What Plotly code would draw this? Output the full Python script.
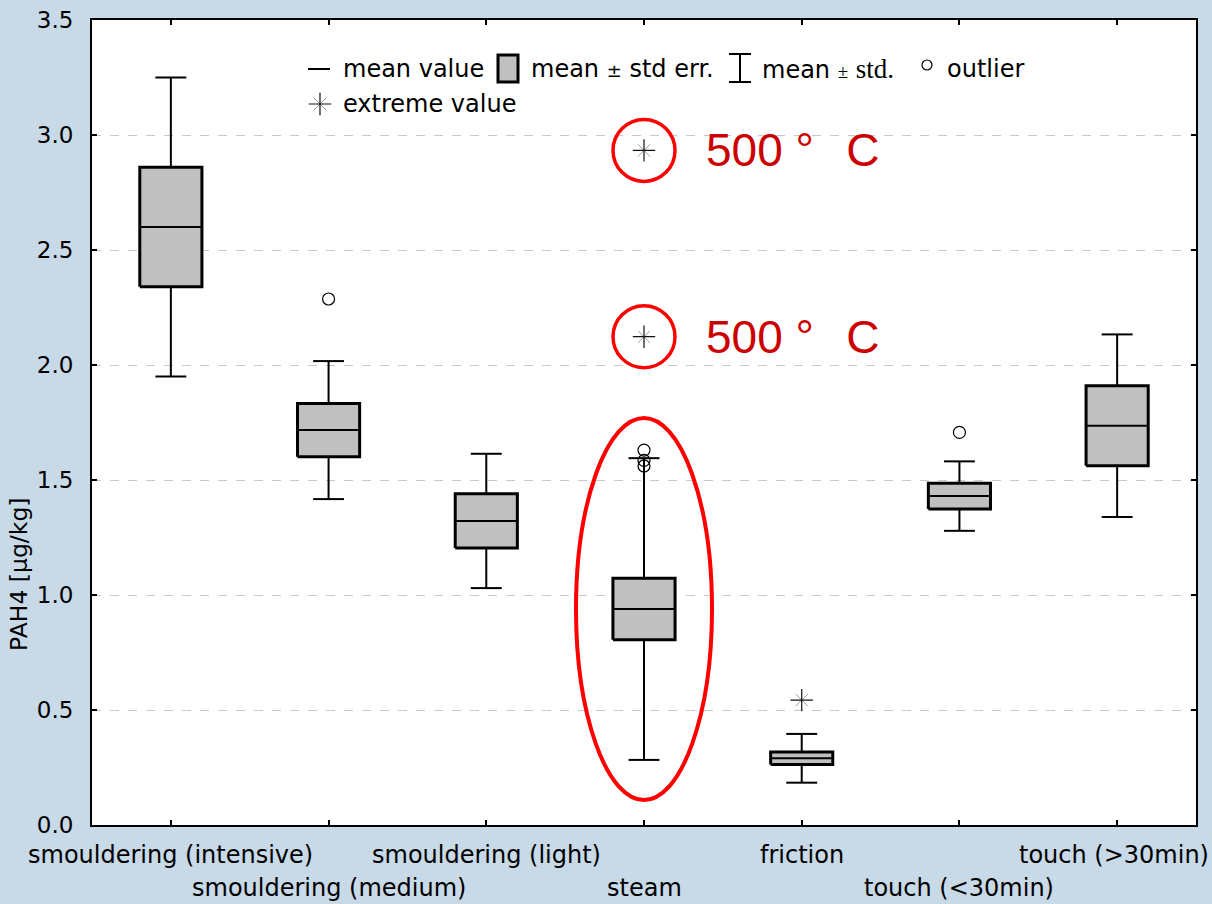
import plotly.graph_objects as go

# ---- data -------------------------------------------------------------
categories = [
    "smouldering (intensive)",
    "smouldering (medium)",
    "smouldering (light)",
    "steam",
    "friction",
    "touch (<30min)",
    "touch (>30min)",
]
mean_values = [2.600, 1.717, 1.322, 0.939, 0.290, 1.430, 1.736]
std_err = [0.260, 0.116, 0.118, 0.134, 0.027, 0.056, 0.174]
std_dev = [0.650, 0.300, 0.292, 0.656, 0.106, 0.151, 0.397]

outlier_cat = [1, 3, 3, 3, 5]
outlier_val = [2.287, 1.630, 1.585, 1.561, 1.707]

extreme_cat = [3, 3, 4]
extreme_val = [2.933, 2.123, 0.543]
extreme_note = ["500 °", "500 °", ""]   # temperature notes for steam extremes

y_ticks = [0.0, 0.5, 1.0, 1.5, 2.0, 2.5, 3.0, 3.5]

# ---- geometry / style -------------------------------------------------
W, H = 1212, 904
M_L, M_R, M_T, M_B = 92, 16, 20, 79
PW, PH = W - M_L - M_R, H - M_T - M_B
X_RANGE = [-0.5, 6.5]
Y_RANGE = [0.0, 3.5]
BOX_HALF = 0.197      # half box width (category units)
CAP_HALF = 0.098      # half whisker-cap width
BOX_FILL = "#c0c0c0"
SANS = "DejaVu Sans"
ARIAL = "Liberation Sans"
SERIF = "Liberation Serif"


def px(x):
    """pixel column -> paper x"""
    return (x - M_L) / PW


def py(y):
    """pixel row -> paper y"""
    return (H - M_B - y) / PH


def dx(pixels):
    return pixels * (X_RANGE[1] - X_RANGE[0]) / PW


def dy(pixels):
    return pixels * (Y_RANGE[1] - Y_RANGE[0]) / PH


fig = go.Figure()

# whiskers: mean ± std. dev.
wx, wy = [], []
for i, (m, se, sd) in enumerate(zip(mean_values, std_err, std_dev)):
    wx += [i, i, None, i, i, None]
    wy += [m + se, m + sd, None, m - se, m - sd, None]
    wx += [i - CAP_HALF, i + CAP_HALF, None, i - CAP_HALF, i + CAP_HALF, None]
    wy += [m + sd, m + sd, None, m - sd, m - sd, None]
fig.add_trace(go.Scatter(x=wx, y=wy, mode="lines",
                         line=dict(color="black", width=2),
                         hoverinfo="skip", showlegend=False))

# boxes: mean ± std. error
bx, by = [], []
for i, (m, se) in enumerate(zip(mean_values, std_err)):
    bx += [i - BOX_HALF, i + BOX_HALF, i + BOX_HALF, i - BOX_HALF, i - BOX_HALF, None]
    by += [m - se, m - se, m + se, m + se, m - se, None]
fig.add_trace(go.Scatter(x=bx, y=by, mode="lines", fill="toself",
                         fillcolor=BOX_FILL,
                         line=dict(color="black", width=3),
                         hoverinfo="skip", showlegend=False))

# mean value lines
mx, my = [], []
for i, m in enumerate(mean_values):
    mx += [i - BOX_HALF, i + BOX_HALF, None]
    my += [m, m, None]
fig.add_trace(go.Scatter(x=mx, y=my, mode="lines",
                         line=dict(color="black", width=2),
                         hoverinfo="skip", showlegend=False))

# outliers
fig.add_trace(go.Scatter(x=outlier_cat, y=outlier_val, mode="markers",
                         marker=dict(symbol="circle-open", size=12,
                                     color="black", line=dict(width=1.2)),
                         hoverinfo="skip", showlegend=False))


# extreme values (star-like glyph made of two layered markers)
def extreme_markers(xs, ys, xaxis="x", yaxis="y"):
    fig.add_trace(go.Scatter(x=xs, y=ys, mode="markers", xaxis=xaxis, yaxis=yaxis,
                             marker=dict(symbol="x-thin-open", size=12,
                                         color="#9a9a9a", line=dict(width=1)),
                             hoverinfo="skip", showlegend=False))
    fig.add_trace(go.Scatter(x=xs, y=ys, mode="markers", xaxis=xaxis, yaxis=yaxis,
                             marker=dict(symbol="cross-thin-open", size=16,
                                         color="#111111", line=dict(width=1.2)),
                             hoverinfo="skip", showlegend=False))


extreme_markers(extreme_cat, extreme_val)

# ---- legend glyphs on a hidden unit overlay ---------------------------
fig.add_trace(go.Scatter(x=[px(927)], y=[py(65)], mode="markers",
                         xaxis="x2", yaxis="y2",
                         marker=dict(symbol="circle-open", size=10,
                                     color="black", line=dict(width=1.2)),
                         hoverinfo="skip", showlegend=False))
extreme_markers([px(320)], [py(104)], "x2", "y2")

shapes = [
    # mean value
    dict(type="line", xref="paper", yref="paper",
         x0=px(308), x1=px(330), y0=py(69), y1=py(69),
         line=dict(color="black", width=2)),
    # mean ± std err.
    dict(type="rect", xref="paper", yref="paper",
         x0=px(498), x1=px(518), y0=py(55), y1=py(82),
         fillcolor=BOX_FILL, line=dict(color="black", width=3)),
    # mean ± std.
    dict(type="line", xref="paper", yref="paper",
         x0=px(740), x1=px(740), y0=py(54), y1=py(82),
         line=dict(color="black", width=2)),
    dict(type="line", xref="paper", yref="paper",
         x0=px(729), x1=px(751), y0=py(54), y1=py(54),
         line=dict(color="black", width=2)),
    dict(type="line", xref="paper", yref="paper",
         x0=px(729), x1=px(751), y0=py(82), y1=py(82),
         line=dict(color="black", width=2)),
]

# red highlight of the steam group and its 500 °C extremes
steam = categories.index("steam")
shapes.append(dict(type="circle", xref="x", yref="y",
                   x0=steam - dx(68), x1=steam + dx(68),
                   y0=mean_values[steam] - dy(191), y1=mean_values[steam] + dy(191),
                   line=dict(color="#ff0000", width=4)))
annotations = []
for c, v, note in zip(extreme_cat, extreme_val, extreme_note):
    if not note:
        continue
    shapes.append(dict(type="circle", xref="x", yref="y",
                       x0=c - dx(31), x1=c + dx(31), y0=v - dy(31), y1=v + dy(31),
                       line=dict(color="#ff0000", width=3.5)))
    annotations.append(dict(x=c, y=v, xref="x", yref="y", xanchor="left",
                            yanchor="middle", xshift=60, showarrow=False,
                            text=note + "\u2002\u2009C",
                            font=dict(family=ARIAL, size=46, color="#cc0000")))

# legend texts
leg_font = dict(family=SANS, size=24, color="black")
for x, y, t in [
    (341, 69, "mean value"),
    (529, 69, "mean <span style='font-size:18px'>±</span> std err."),
    (760, 69, "mean <span style='font-family:Liberation Serif;font-size:19px'>±</span>"
              " <span style='font-family:Liberation Serif;font-size:27px'>std.</span>"),
    (945, 69, "outlier"),
    (341, 104, "extreme value"),
]:
    annotations.append(dict(x=px(x), y=py(y), xref="paper", yref="paper",
                            xanchor="left", yanchor="middle", showarrow=False,
                            text=t, font=leg_font))

# category labels, alternating between two rows
for i, name in enumerate(categories):
    annotations.append(dict(x=i, y=py(855 if i % 2 == 0 else 888),
                            xref="x", yref="paper", xanchor="center",
                            yanchor="middle", showarrow=False, text=name,
                            xshift=-3 if i == len(categories) - 1 else 0,
                            font=dict(family=SANS, size=24, color="black")))

# y axis title
annotations.append(dict(x=px(19), y=py(575), xref="paper", yref="paper",
                        xanchor="center", yanchor="middle", textangle=-90,
                        showarrow=False, text="PAH4 [µg/kg]",
                        font=dict(family=SANS, size=23.5, color="black")))

fig.update_layout(
    width=W, height=H,
    margin=dict(l=M_L, r=M_R, t=M_T, b=M_B, pad=0, autoexpand=False),
    paper_bgcolor="#c8d9e7",
    plot_bgcolor="white",
    showlegend=False,
    shapes=shapes,
    annotations=annotations,
    xaxis=dict(range=X_RANGE, tickvals=list(range(len(categories))),
               showticklabels=False, ticks="inside", ticklen=5, tickwidth=2,
               tickcolor="black", showline=True, linecolor="black", linewidth=2,
               mirror="ticks", showgrid=False, zeroline=False, fixedrange=True,
               automargin=False),
    yaxis=dict(range=Y_RANGE, tickvals=y_ticks,
               ticktext=[f"{v:.1f}" for v in y_ticks],
               ticks="inside", ticklen=5, tickwidth=2, tickcolor="black",
               showline=True, linecolor="black", linewidth=2, mirror="ticks",
               showgrid=True, gridcolor="#c8c8c8", gridwidth=1, griddash="dash",
               zeroline=False, ticklabelstandoff=12, automargin=False,
               tickfont=dict(family=SANS, size=23, color="black"),
               fixedrange=True),
    xaxis2=dict(range=[0, 1], overlaying="x", visible=False, fixedrange=True),
    yaxis2=dict(range=[0, 1], overlaying="y", visible=False, fixedrange=True),
)

fig.write_html("out.html")
